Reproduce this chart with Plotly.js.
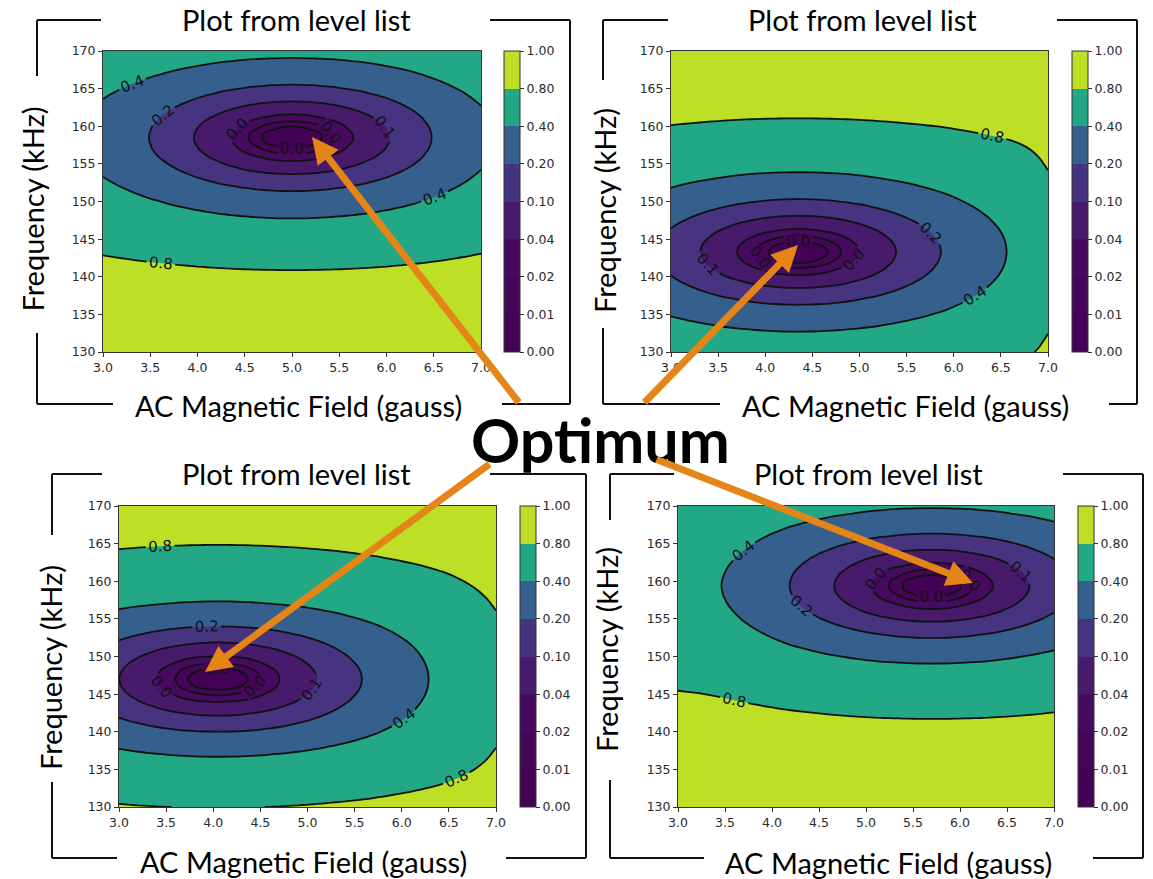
<!DOCTYPE html>
<html>
<head>
<meta charset="utf-8">
<script src="https://cdn.plot.ly/plotly-3.0.1.min.js"></script>
<style>
  html, body { margin: 0; padding: 0; background: #ffffff; }
  #chart { width: 1153px; height: 879px; }
</style>
</head>
<body>
<div id="chart"></div>
<script>
// ---- level list used by every map ----
const levels = [0, 0.01, 0.02, 0.04, 0.1, 0.2, 0.4, 0.8, 1.0];
const levelLabels = ['0.00', '0.01', '0.02', '0.04', '0.10', '0.20', '0.40', '0.80', '1.00'];
const bandColors = ['#440256', '#450559', '#460b5e', '#481a6c', '#463480', '#355f8d', '#22a884', '#bddf26'];

// ---- sampling grid ----
const fieldGauss = [3.0, 3.1, 3.2, 3.3, 3.4, 3.5, 3.6, 3.7, 3.8, 3.9,
                    4.0, 4.1, 4.2, 4.3, 4.4, 4.5, 4.6, 4.7, 4.8, 4.9,
                    5.0, 5.1, 5.2, 5.3, 5.4, 5.5, 5.6, 5.7, 5.8, 5.9,
                    6.0, 6.1, 6.2, 6.3, 6.4, 6.5, 6.6, 6.7, 6.8, 6.9, 7.0];
const freqKHz = [130, 131, 132, 133, 134, 135, 136, 137, 138, 139,
                 140, 141, 142, 143, 144, 145, 146, 147, 148, 149,
                 150, 151, 152, 153, 154, 155, 156, 157, 158, 159,
                 160, 161, 162, 163, 164, 165, 166, 167, 168, 169, 170];

// ---- response profiles: along the field axis (at the optimum frequency)
//      and along the frequency axis (at the optimum field) ----
const panelA_field = [0.323, 0.297, 0.271, 0.246, 0.221, 0.197, 0.174, 0.152, 0.131, 0.112,
                      0.093, 0.076, 0.061, 0.047, 0.035, 0.024, 0.0155, 0.0088, 0.0039, 0.001,
                      0, 0.001, 0.0039, 0.0088, 0.0155, 0.024, 0.035, 0.047, 0.061, 0.076,
                      0.093, 0.113, 0.134, 0.156, 0.181, 0.206, 0.233, 0.261, 0.289, 0.319, 0.349];
const panelA_freq = [0.988, 0.984, 0.979, 0.972, 0.963, 0.952, 0.938, 0.921, 0.897, 0.868,
                     0.834, 0.795, 0.748, 0.696, 0.637, 0.575, 0.510, 0.444, 0.387, 0.330,
                     0.275, 0.221, 0.171, 0.126, 0.086, 0.053, 0.027, 0.010, 0.0011, 0.0011,
                     0.0102, 0.0281, 0.0544, 0.0883, 0.129, 0.175, 0.227, 0.281, 0.338, 0.396, 0.453];

const panelB_field = [0.1631, 0.1415, 0.1211, 0.1021, 0.0844, 0.0681, 0.0535, 0.0404, 0.0291, 0.0196,
                      0.0119, 0.0061, 0.0022, 0.0002, 0.0002, 0.0022, 0.0061, 0.0119, 0.0196, 0.0291,
                      0.0404, 0.0535, 0.0681, 0.0844, 0.1021, 0.1211, 0.1415, 0.1631, 0.1856, 0.2091,
                      0.2355, 0.2630, 0.2913, 0.3204, 0.3501, 0.3803, 0.4137, 0.4563, 0.5109, 0.5784, 0.6569];
const panelB_freq = [0.5541, 0.4988, 0.4417, 0.3839, 0.3262, 0.2699, 0.2160, 0.1657, 0.1203, 0.0809,
                     0.0485, 0.0239, 0.0077, 0.0004, 0.0022, 0.0131, 0.0327, 0.0606, 0.0959, 0.1378,
                     0.1853, 0.2372, 0.2922, 0.3492, 0.4071, 0.4693, 0.5308, 0.5905, 0.6499, 0.7055,
                     0.7541, 0.7978, 0.8363, 0.8658, 0.8912, 0.9126, 0.9305, 0.9453, 0.9575, 0.9672, 0.9750];

const panelC_field = [0.1003, 0.0829, 0.0669, 0.0525, 0.0397, 0.0286, 0.0192, 0.0117, 0.0060, 0.0022,
                      0.0002, 0.0002, 0.0022, 0.0060, 0.0117, 0.0192, 0.0286, 0.0397, 0.0525, 0.0669,
                      0.0829, 0.1003, 0.1191, 0.1391, 0.1603, 0.1825, 0.2057, 0.2297, 0.2566, 0.2843,
                      0.3130, 0.3423, 0.3734, 0.4050, 0.4384, 0.4750, 0.5147, 0.5571, 0.6017, 0.6504, 0.7042];
const panelC_freq = [0.7952, 0.7494, 0.6985, 0.6400, 0.5778, 0.5128, 0.4466, 0.3806, 0.3161, 0.2564,
                     0.2005, 0.1497, 0.1052, 0.0686, 0.0392, 0.0176, 0.0044, 0, 0.0044, 0.0176,
                     0.0392, 0.0686, 0.1052, 0.1497, 0.2005, 0.2564, 0.3161, 0.3806, 0.4443, 0.5055,
                     0.5650, 0.6216, 0.6750, 0.7241, 0.7663, 0.8063, 0.8415, 0.8701, 0.8946, 0.9154, 0.9328];

const panelD_field = [0.477, 0.466, 0.454, 0.437, 0.416, 0.391, 0.364, 0.335, 0.307, 0.278,
                      0.250, 0.223, 0.197, 0.174, 0.152, 0.131, 0.1115, 0.093, 0.0761, 0.0606,
                      0.0467, 0.0346, 0.0241, 0.0155, 0.0088, 0.0039, 0.001, 0, 0.001, 0.0039,
                      0.0088, 0.0155, 0.0241, 0.0346, 0.0467, 0.0606, 0.0761, 0.093, 0.1115, 0.131, 0.152];
const panelD_freq = [0.9900, 0.9864, 0.9817, 0.9756, 0.9678, 0.9581, 0.9459, 0.9310, 0.9113, 0.8876,
                     0.8594, 0.8266, 0.7876, 0.7440, 0.6941, 0.6424, 0.5844, 0.5261, 0.4656, 0.4043,
                     0.3432, 0.2835, 0.2266, 0.1738, 0.1262, 0.0852, 0.0514, 0.0260, 0.0089, 0.0007,
                     0.0016, 0.0116, 0.0304, 0.0575, 0.0927, 0.1351, 0.1837, 0.2374, 0.2966, 0.3569, 0.4184];

// ---- text ----
const panelTitle = 'Plot from level list';
const xTitle = 'AC Magnetic Field (gauss)';
const yTitle = 'Frequency (kHz)';
const calloutText = 'Optimum';

// ---- page geometry (pixels) ----
const W = 1153, H = 879;
const fx = p => p / W;
const fy = p => 1 - p / H;

const panels = [
  { field: panelA_field, freq: panelA_freq,
    plot: [103, 51, 481, 352], cbarX: 504,
    title: [296.5, 19], xLab: [298, 405], yLab: [31.5, 209],
    frame: [[37, 20, 101, 20], [490, 20, 570, 20], [570, 20, 570, 404],
            [37, 404, 113, 404], [502, 404, 570, 404], [37, 20, 37, 76], [37, 333, 37, 404]],
    arrowTip: [312, 137], arrowTail: [520, 404] },
  { field: panelB_field, freq: panelB_freq,
    plot: [671, 51, 1048, 352], cbarX: 1072,
    title: [862.5, 19], xLab: [905, 405], yLab: [605, 211],
    frame: [[603, 20, 668, 20], [1057, 20, 1137, 20], [1137, 20, 1137, 404],
            [603, 404, 720, 404], [1109, 404, 1137, 404], [603, 20, 603, 80], [603, 328, 603, 404]],
    arrowTip: [798, 245], arrowTail: [643, 404] },
  { field: panelC_field, freq: panelC_freq,
    plot: [119, 506, 496, 807], cbarX: 520,
    title: [296.5, 473], xLab: [303, 861], yLab: [50, 668],
    frame: [[52, 474, 102, 474], [490, 474, 586, 474], [586, 474, 586, 858],
            [52, 858, 117, 858], [506, 858, 586, 858], [52, 474, 52, 535], [52, 782, 52, 858]],
    arrowTip: [205, 672], arrowTail: [491, 463] },
  { field: panelD_field, freq: panelD_freq,
    plot: [678, 506, 1054, 807], cbarX: 1078,
    title: [868, 473], xLab: [888, 862], yLab: [606, 650],
    frame: [[610, 474, 674, 474], [1063, 474, 1143, 474], [1143, 474, 1143, 858],
            [610, 858, 704, 858], [1093, 858, 1143, 858], [610, 474, 610, 520], [610, 780, 610, 858]],
    arrowTip: [973, 583], arrowTail: [655, 459] }
];

// combined response surface from the two profiles (rows = frequency, cols = field)
function combine(fieldResp, freqResp) {
  return freqResp.map(fq => fieldResp.map(fl => 1 - (1 - fl) * (1 - fq)));
}

// Smooth monotone (PCHIP) map from a value to its position in the level list,
// so every listed level lands on a whole number (equal bands, as on the colour bar).
const levelSlopes = (() => {
  const n = levels.length, h = [], d = [];
  for (let k = 0; k < n - 1; k++) { h.push(levels[k + 1] - levels[k]); d.push(1 / h[k]); }
  const m = new Array(n);
  m[0] = d[0];
  m[n - 1] = d[n - 2];
  for (let k = 1; k < n - 1; k++) {
    const w1 = 2 * h[k] + h[k - 1], w2 = h[k] + 2 * h[k - 1];
    m[k] = (w1 + w2) / (w1 / d[k - 1] + w2 / d[k]);
  }
  return m;
})();
function toLevelIndex(v) {
  const n = levels.length;
  if (v <= levels[0]) return 0;
  if (v >= levels[n - 1]) return n - 1;
  let k = 0;
  while (v > levels[k + 1]) k++;
  const h = levels[k + 1] - levels[k], t = (v - levels[k]) / h;
  const t2 = t * t, t3 = t2 * t;
  return (2 * t3 - 3 * t2 + 1) * k + (t3 - 2 * t2 + t) * h * levelSlopes[k] +
         (-2 * t3 + 3 * t2) * (k + 1) + (t3 - t2) * h * levelSlopes[k + 1];
}

const bigFont = { family: 'Lato, "Open Sans", sans-serif', size: 29, color: '#000000' };
const tickFont = { family: '"DejaVu Sans", sans-serif', size: 12.5, color: '#2a2a2a' };
const lineColor = '#111111';
const arrowColor = '#e58417';

const traces = [];
const layout = {
  width: W, height: H, autosize: false,
  margin: { l: 0, r: 0, t: 0, b: 0, pad: 0 },
  paper_bgcolor: '#ffffff', plot_bgcolor: '#ffffff',
  showlegend: false,
  font: { family: '"DejaVu Sans", sans-serif', color: '#222222' },
  shapes: [], annotations: []
};

const nBands = bandColors.length;
const bandScale = bandColors.map((c, k) => [k / (nBands - 1), c]);
const innerLevels = { start: 1, end: levels.length - 2, size: 1 };

panels.forEach((p, i) => {
  const s = i === 0 ? '' : String(i + 1);
  const xa = 'x' + s, ya = 'y' + s;
  const [l, t, r, b] = p.plot;
  const zIdx = combine(p.field, p.freq).map(row => row.map(toLevelIndex));

  // filled bands + colour bar
  traces.push({
    type: 'contour', x: fieldGauss, y: freqKHz, z: zIdx, xaxis: xa, yaxis: ya,
    autocontour: false,
    contours: Object.assign({ coloring: 'fill', showlines: false }, innerLevels),
    zmin: 0, zmax: levels.length - 1,
    colorscale: bandScale,
    line: { width: 0, smoothing: 1.3 },
    hoverinfo: 'skip',
    showscale: true,
    colorbar: {
      x: fx(p.cbarX), xanchor: 'left', xpad: 0,
      y: fy((t + b) / 2), yanchor: 'middle', ypad: 0,
      len: b - t, lenmode: 'pixels',
      thickness: 16, thicknessmode: 'pixels',
      outlinewidth: 1, outlinecolor: '#333333',
      tickmode: 'array',
      tickvals: levels.map((v, k) => k),
      ticktext: levelLabels,
      ticks: 'outside', ticklen: 4, tickwidth: 1, tickcolor: '#333333',
      tickfont: tickFont,
      title: { text: '' }
    }
  });

  // labelled contour lines at every inner level
  traces.push({
    type: 'contour', x: fieldGauss, y: freqKHz, z: zIdx, xaxis: xa, yaxis: ya,
    autocontour: false,
    contours: Object.assign({
      coloring: 'none', showlines: true,
      showlabels: true, labelformat: '.1f',
      labelfont: { family: '"DejaVu Sans", sans-serif', size: 15, color: '#111111' }
    }, innerLevels),
    line: { color: '#111111', width: 1.8, smoothing: 1.3 },
    showscale: false, hoverinfo: 'skip'
  });

  const axisCommon = {
    ticks: 'outside', ticklen: 4, tickwidth: 1, tickcolor: '#333333',
    showline: true, linecolor: '#333333', linewidth: 1, mirror: true,
    showgrid: false, zeroline: false, tickfont: tickFont, fixedrange: true
  };
  layout['xaxis' + s] = Object.assign({
    domain: [fx(l), fx(r)], range: [3, 7], anchor: ya,
    tick0: 3, dtick: 0.5, tickformat: '.1f'
  }, axisCommon);
  layout['yaxis' + s] = Object.assign({
    domain: [fy(b), fy(t)], range: [130, 170], anchor: xa,
    tick0: 130, dtick: 5
  }, axisCommon);

  // bracket frame around each panel
  p.frame.forEach(seg => {
    layout.shapes.push({
      type: 'line', xref: 'paper', yref: 'paper',
      x0: fx(seg[0]), y0: fy(seg[1]), x1: fx(seg[2]), y1: fy(seg[3]),
      line: { color: lineColor, width: 2 }
    });
  });

  // panel texts
  layout.annotations.push(
    { text: panelTitle, xref: 'paper', yref: 'paper', x: fx(p.title[0]), y: fy(p.title[1]),
      xanchor: 'center', yanchor: 'middle', showarrow: false, font: bigFont },
    { text: xTitle, xref: 'paper', yref: 'paper', x: fx(p.xLab[0]), y: fy(p.xLab[1]),
      xanchor: 'center', yanchor: 'middle', showarrow: false, font: bigFont },
    { text: yTitle, xref: 'paper', yref: 'paper', x: fx(p.yLab[0]), y: fy(p.yLab[1]),
      xanchor: 'center', yanchor: 'middle', showarrow: false, textangle: -90, font: bigFont }
  );
});

// central callout and its arrows
layout.annotations.push({
  text: '<b>' + calloutText + '</b>', xref: 'paper', yref: 'paper',
  x: fx(600), y: fy(439), xanchor: 'center', yanchor: 'middle', showarrow: false,
  font: { family: 'Lato, "Open Sans", sans-serif', size: 61, color: '#000000' }
});
panels.forEach(p => {
  layout.annotations.push({
    text: '', xref: 'paper', yref: 'paper',
    x: fx(p.arrowTip[0]), y: fy(p.arrowTip[1]),
    ax: p.arrowTail[0] - p.arrowTip[0], ay: p.arrowTail[1] - p.arrowTip[1],
    axref: 'pixel', ayref: 'pixel',
    showarrow: true, arrowhead: 2, arrowsize: 0.75, arrowwidth: 7,
    arrowcolor: arrowColor, standoff: 0, startstandoff: 0
  });
});

// contour labels carry the level value (one decimal) rather than the band position
function labelWithLevelValues(gd) {
  gd.querySelectorAll('.contourlabels text').forEach(el => {
    const k = Math.round(parseFloat(el.textContent));
    if (k >= 0 && k < levels.length) el.textContent = levels[k].toFixed(1);
  });
}

const gd = document.getElementById('chart');
Plotly.newPlot(gd, traces, layout, { displayModeBar: false, staticPlot: true })
  .then(() => labelWithLevelValues(gd));
</script>
</body>
</html>
